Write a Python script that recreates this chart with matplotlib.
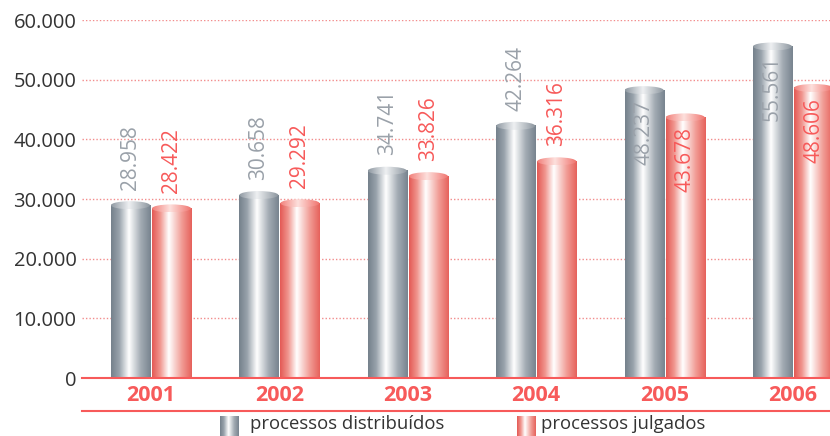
import numpy as np
import matplotlib.pyplot as plt
from matplotlib.patches import Ellipse
from matplotlib.lines import Line2D
from matplotlib.colors import to_rgb

plt.rcParams['font.family'] = ['Open Sans', 'DejaVu Sans']

anos = ['2001', '2002', '2003', '2004', '2005', '2006']
distribuidos = [28958, 30658, 34741, 42264, 48237, 55561]
julgados = [28422, 29292, 33826, 36316, 43678, 48606]

RED = '#f75a5a'
GREY_TXT = '#9aa1a9'

# gradientes horizontais (cilindros)
grad_cinza = [(0, '#75818c'), (0.2, '#98a2ab'), (0.45, '#ffffff'), (0.75, '#a2abb3'), (1, '#78848f')]
grad_verm = [(0, '#e45a55'), (0.2, '#f0958e'), (0.42, '#ffffff'), (0.75, '#f19c95'), (1, '#e6625c')]
tampa_cinza = [(0, '#8f99a2'), (0.45, '#eef0f2'), (1, '#8a949d')]
tampa_verm = [(0, '#f2807a'), (0.45, '#fde0dd'), (1, '#f0726c')]


def gradiente(stops, n=80):
    pos = [s[0] for s in stops]
    cols = np.array([to_rgb(s[1]) for s in stops])
    t = np.linspace(0, 1, n)
    arr = np.stack([np.interp(t, pos, cols[:, k]) for k in range(3)], axis=-1)
    return arr[np.newaxis, :, :]


fig = plt.figure(figsize=(8.3, 4.36), dpi=100)
ax = fig.add_axes([82/830, 1-378/436, 1-82/830, 358/436])

x = np.arange(len(anos))
w = 0.304
off = 0.16
ymax = 60000
cap_h = 8 * ymax / 358


def cilindro(xc, v, corpo, tampa):
    im = ax.imshow(gradiente(corpo), extent=[xc-w/2, xc+w/2, 0, v], aspect='auto', zorder=2)
    el = Ellipse((xc, v), w, cap_h, facecolor='none', edgecolor='none')
    ax.add_patch(el)
    im2 = ax.imshow(gradiente(tampa), extent=[xc-w/2, xc+w/2, v-cap_h/2, v+cap_h/2], aspect='auto', zorder=3)
    im2.set_clip_path(el)


def fmt(v):
    return f'{v:,.0f}'.replace(',', '.')


for i in range(len(anos)):
    for serie, dx, corpo, tampa, cor in [(distribuidos, -off, grad_cinza, tampa_cinza, GREY_TXT),
                                         (julgados, off, grad_verm, tampa_verm, RED)]:
        v = serie[i]
        xc = x[i] + dx
        cilindro(xc, v, corpo, tampa)
        if v > 43000:
            ax.annotate(fmt(v), (xc, v), xytext=(0, -7), textcoords='offset points',
                        rotation=90, ha='center', va='top', color=cor, fontsize=15, zorder=5)
        else:
            ax.annotate(fmt(v), (xc, v), xytext=(0, 11), textcoords='offset points',
                        rotation=90, ha='center', va='bottom', color=cor, fontsize=15, zorder=5)

ax.set_xlim(-0.537, 5.288)
ax.set_ylim(0, ymax)
ax.set_yticks(range(0, 60001, 10000))
ax.set_yticklabels([fmt(v) for v in range(0, 60001, 10000)], fontsize=14.5, color='#333333')
ax.yaxis.grid(True, linestyle=(0, (1, 1.5)), color='#f28c8c', lw=1)
ax.set_axisbelow(True)
ax.set_xticks(x)
ax.set_xticklabels(anos, fontsize=15.5, fontweight='bold', color=RED)
ax.tick_params(axis='both', length=0)
ax.tick_params(axis='y', pad=4)
ax.tick_params(axis='x', pad=5)
for s in ['top', 'right', 'left']:
    ax.spines[s].set_visible(False)
ax.spines['bottom'].set_color(RED)
ax.spines['bottom'].set_linewidth(1.5)
ax.spines['bottom'].set_zorder(6)

fig.add_artist(Line2D([82/830, 1], [1-411/436, 1-411/436], color=RED, lw=1.5))

# legenda
for x0, xt, stops, txt in [(220, 250, grad_cinza, 'processos distribuídos'),
                           (517, 541, grad_verm, 'processos julgados')]:
    sw = fig.add_axes([x0/830, 0, 19/830, 20/436])
    sw.imshow(gradiente(stops), aspect='auto', extent=[0, 1, 0, 1])
    sw.axis('off')
    fig.text(xt/830, 1-424/436, txt, va='center', ha='left', fontsize=13.3, color='#333333')

fig.savefig('out.png', dpi=100)
